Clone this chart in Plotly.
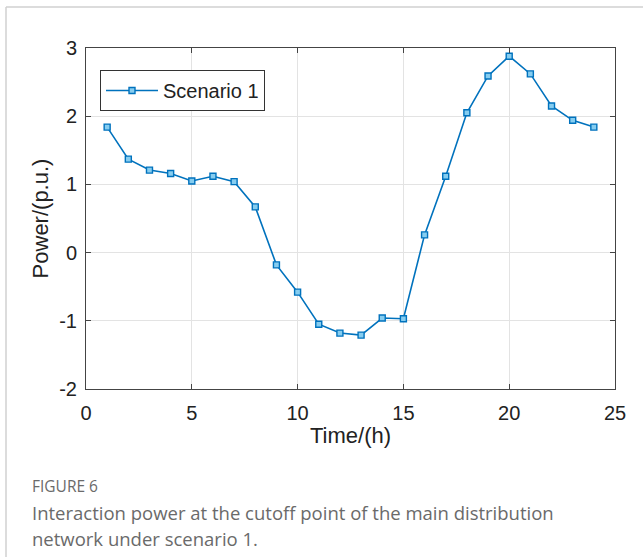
import plotly.graph_objects as go

hours = list(range(1, 25))
power = [1.84, 1.37, 1.21, 1.16, 1.05, 1.12, 1.04, 0.67, -0.18, -0.58, -1.05, -1.18,
         -1.21, -0.96, -0.97, 0.26, 1.12, 2.05, 2.59, 2.88, 2.62, 2.15, 1.94, 1.84]
series_name = "Scenario 1"
x_ticks = [0, 5, 10, 15, 20, 25]
y_ticks = [-2, -1, 0, 1, 2, 3]
y_tick_labels = ["-2", "-1", "0", "1", "2", "3"]

W, H = 643, 557
L, R, T, B = 86, 615, 48, 389
pw, ph = R - L, B - T

def px(x):
    return (x - L) / pw

def py(y):
    return (B - y) / ph

fig = go.Figure()
fig.add_trace(go.Scatter(
    x=hours, y=power, mode="lines+markers", name=series_name,
    line=dict(color="#0072BD", width=1.6),
    marker=dict(symbol="square", size=6, color="#86cdf0",
                line=dict(color="#0072BD", width=1.4)),
))

font_main = "Liberation Sans, Arial"
axis_common = dict(
    showline=True, linecolor="#444", linewidth=1, mirror="ticks",
    ticks="inside", ticklen=5, tickcolor="#444",
    showgrid=True, gridcolor="#e3e3e3", gridwidth=1, zeroline=False,
    tickfont=dict(family=font_main, size=20, color="#222"),
)

fig.update_layout(
    width=W, height=H,
    margin=dict(l=L, r=W - R, t=T, b=H - B),
    paper_bgcolor="white", plot_bgcolor="white",
    xaxis=dict(range=[0, 25], tickvals=x_ticks, ticklabelstandoff=6, **axis_common,
               title=dict(text="Time/(h)", standoff=4,
                          font=dict(family=font_main, size=22, color="#222"))),
    yaxis=dict(range=[-2, 3], tickvals=y_ticks, ticktext=y_tick_labels,
               ticklabelstandoff=4, **axis_common,
               title=dict(text="Power/(p.u.)", standoff=4,
                          font=dict(family=font_main, size=22, color="#222"))),
    legend=dict(x=px(100), y=py(70), xanchor="left", yanchor="top",
                bordercolor="#333", borderwidth=1, bgcolor="white",
                font=dict(family=font_main, size=20, color="#222"),
                itemwidth=52),
    showlegend=True,
)

# card border lines
fig.add_shape(type="line", xref="paper", yref="paper",
              x0=px(6), x1=px(643), y0=py(7), y1=py(7),
              line=dict(color="#d0d0d0", width=1.5))
fig.add_shape(type="line", xref="paper", yref="paper",
              x0=px(6), x1=px(6), y0=py(7), y1=py(557),
              line=dict(color="#d0d0d0", width=1.5))

cap_font = "Open Sans, Noto Sans"
fig.add_annotation(text="FIGURE 6", xref="paper", yref="paper",
                   x=px(30), y=py(486), xanchor="left", yanchor="middle",
                   showarrow=False, font=dict(family=cap_font, size=15.5, color="#6a6a6a"))
fig.add_annotation(text="Interaction power at the cutoff point of the main distribution",
                   xref="paper", yref="paper", x=px(30), y=py(512),
                   xanchor="left", yanchor="middle", showarrow=False,
                   font=dict(family=cap_font, size=18.5, color="#6a6a6a"))
fig.add_annotation(text="network under scenario 1.",
                   xref="paper", yref="paper", x=px(30), y=py(538),
                   xanchor="left", yanchor="middle", showarrow=False,
                   font=dict(family=cap_font, size=18.5, color="#6a6a6a"))

fig.write_html("out.html")
